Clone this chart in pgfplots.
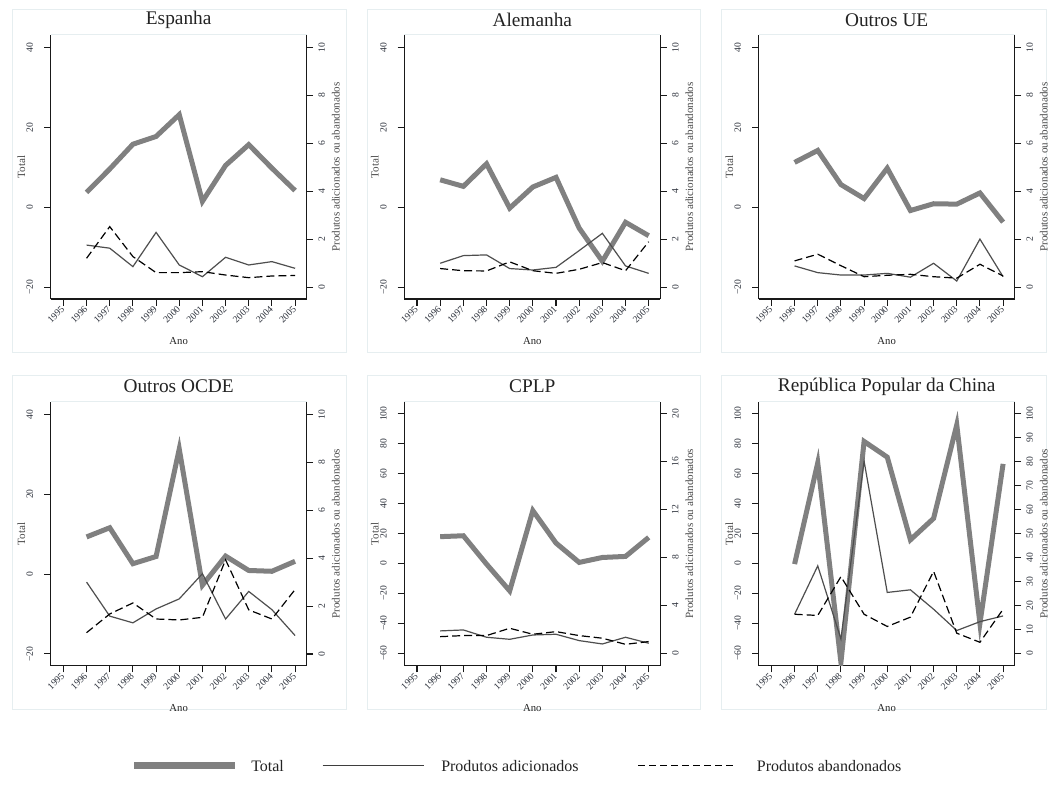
\documentclass[border=0pt]{standalone}
\usepackage{fontspec}
\setmainfont{Liberation Serif}
\usepackage{pgfplots}
\pgfplotsset{compat=1.18}

\definecolor{totgray}{RGB}{128,128,128}
\definecolor{addgray}{RGB}{78,78,78}
\definecolor{boxcol}{RGB}{230,238,240}
\definecolor{txt}{RGB}{35,35,35}
\definecolor{ticktxt}{RGB}{45,50,60}

\pgfplotsset{
  base/.style={
    scale only axis, width=192pt, height=198pt,
    xmin=1994.45, xmax=2005.5,
    clip mode=individual,
    axis line style={-, line width=0.8pt, black!90},
    tick style={line width=0.8pt, black!90},
    tick align=outside, major tick length=4.9pt,
    tick label style={font=\fontsize{7.2}{8}\selectfont, text=ticktxt, inner sep=0.5pt},
  },
  leftax/.style={base,
    axis x line*=bottom, axis y line*=left,
    xtick={1995,1996,1997,1998,1999,2000,2001,2002,2003,2004,2005},
    xticklabels={1995,1996,1997,1998,1999,2000,2001,2002,2003,2004,2005},
    xticklabel style={rotate=45, anchor=east},
    yticklabel style={rotate=90, anchor=south},
    yticklabel shift=7.6pt,
    xticklabel shift=1.2pt,
  },
  rightax/.style={base,
    axis x line=none, axis y line*=right,
    yticklabel style={rotate=90, anchor=north},
    yticklabel shift=3.3pt,
  },
  smallL/.style={ymin=-22.95, ymax=43.15, ytick={-20,0,20,40}, yticklabels={−20,0,20,40}},
  smallR/.style={ymin=-0.49, ymax=10.525, ytick={0,2,4,6,8,10}, yticklabels={0,2,4,6,8,10}},
  bigL/.style={ymin=-68.3, ymax=108, ytick={-60,-40,-20,0,20,40,60,80,100}, yticklabels={−60,−40,−20,0,20,40,60,80,100}},
  cplpR/.style={ymin=-1.0375, ymax=21, ytick={0,4,8,12,16,20}, yticklabels={0,4,8,12,16,20}},
  chinaR/.style={ymin=-5.19, ymax=105, ytick={0,10,...,100}, yticklabels={0,10,20,30,40,50,60,70,80,90,100}},
  tot/.style={color=totgray, line width=3.75pt, no markers},
  add/.style={color=addgray, line width=0.9pt, no markers},
  aban/.style={color=black, line width=0.9pt, dash pattern=on 6pt off 3pt, no markers},
}

\newcommand\decor[1]{%
  \node[font=\fontsize{14.5}{16}\selectfont, text=txt] at (rel axis cs:0.5,1.057) {#1};
  \node[font=\fontsize{8}{9}\selectfont, text=txt] at (rel axis cs:0.5,-0.160) {Ano};
  \node[rotate=90, inner sep=0pt, font=\fontsize{8.3}{9}\selectfont, text=black!70] at (rel axis cs:-0.115,0.5) {Total};
  \node[rotate=90, inner sep=0pt, font=\fontsize{8.3}{9}\selectfont, text=black!70] at (rel axis cs:1.114,0.5) {Produtos adicionados ou abandonados};
  \draw[boxcol, line width=0.75pt] (rel axis cs:0,1) -- (rel axis cs:1,1);
}

\begin{document}
\begin{tikzpicture}
\useasboundingbox (0,0) rectangle (786.75pt,595.5pt);
\fill[white] (0,0) rectangle (786.75pt,595.5pt);
% panel boxes
\foreach \xa/\xb in {9pt/259.5pt, 275.25pt/525pt, 540.75pt/784.5pt}{
  \draw[boxcol, line width=0.75pt] (\xa,331.5pt) rectangle (\xb,588pt);
  \draw[boxcol, line width=0.75pt] (\xa,63.75pt) rectangle (\xb,314.25pt);
}

% ---------- Espanha ----------
\begin{axis}[leftax, smallL, at={(38pt,371.25pt)}, anchor=south west]
\addplot[tot] coordinates {(1996,3.75)(1997,9.6)(1998,15.8)(1999,17.75)(2000,23.2)(2001,1.5)(2002,10.5)(2003,15.7)(2004,9.8)(2005,4.2)};
\decor{Espanha}
\end{axis}
\begin{axis}[rightax, smallR, at={(38pt,371.25pt)}, anchor=south west]
\addplot[add] coordinates {(1996,1.76)(1997,1.63)(1998,0.86)(1999,2.29)(2000,0.93)(2001,0.44)(2002,1.25)(2003,0.93)(2004,1.07)(2005,0.79)};
\addplot[aban] coordinates {(1996,1.21)(1997,2.53)(1998,1.28)(1999,0.61)(2000,0.61)(2001,0.65)(2002,0.51)(2003,0.40)(2004,0.47)(2005,0.49)};
\end{axis}

% ---------- Alemanha ----------
\begin{axis}[leftax, smallL, at={(303.2pt,371.25pt)}, anchor=south west]
\addplot[tot] coordinates {(1996,6.9)(1997,5.25)(1998,10.9)(1999,-0.2)(2000,5.1)(2001,7.5)(2002,-5.2)(2003,-13.5)(2004,-3.75)(2005,-7.1)};
\decor{Alemanha}
\end{axis}
\begin{axis}[rightax, smallR, at={(303.2pt,371.25pt)}, anchor=south west]
\addplot[add] coordinates {(1996,1.0)(1997,1.32)(1998,1.35)(1999,0.78)(2000,0.72)(2001,0.83)(2002,1.53)(2003,2.25)(2004,0.89)(2005,0.58)};
\addplot[aban] coordinates {(1996,0.78)(1997,0.69)(1998,0.68)(1999,1.06)(2000,0.69)(2001,0.58)(2002,0.75)(2003,1.03)(2004,0.69)(2005,1.9)};
\end{axis}

% ---------- Outros UE ----------
\begin{axis}[leftax, smallL, at={(569pt,371.25pt)}, anchor=south west]
\addplot[tot] coordinates {(1996,11.25)(1997,14.25)(1998,5.7)(1999,2.2)(2000,9.8)(2001,-0.8)(2002,0.9)(2003,0.8)(2004,3.6)(2005,-3.7)};
\decor{Outros UE}
\end{axis}
\begin{axis}[rightax, smallR, at={(569pt,371.25pt)}, anchor=south west]
\addplot[add] coordinates {(1996,0.89)(1997,0.61)(1998,0.51)(1999,0.51)(2000,0.58)(2001,0.42)(2002,1.0)(2003,0.26)(2004,2.01)(2005,0.44)};
\addplot[aban] coordinates {(1996,1.10)(1997,1.38)(1998,0.90)(1999,0.44)(2000,0.50)(2001,0.54)(2002,0.44)(2003,0.38)(2004,0.96)(2005,0.47)};
\end{axis}

% ---------- Outros OCDE ----------
\begin{axis}[leftax, smallL, at={(38pt,96.2pt)}, anchor=south west]
\addplot[tot] coordinates {(1996,9.3)(1997,11.6)(1998,2.6)(1999,4.4)(2000,31.3)(2001,-2.8)(2002,4.5)(2003,0.9)(2004,0.7)(2005,3.2)};
\decor{Outros OCDE}
\end{axis}
\begin{axis}[rightax, smallR, at={(38pt,96.2pt)}, anchor=south west]
\addplot[add] coordinates {(1996,3.0)(1997,1.58)(1998,1.30)(1999,1.88)(2000,2.30)(2001,3.35)(2002,1.46)(2003,2.61)(2004,1.85)(2005,0.77)};
\addplot[aban] coordinates {(1996,0.89)(1997,1.67)(1998,2.13)(1999,1.46)(2000,1.42)(2001,1.53)(2002,3.93)(2003,1.84)(2004,1.46)(2005,2.69)};
\end{axis}

% ---------- CPLP ----------
\begin{axis}[leftax, bigL, at={(303.2pt,96.2pt)}, anchor=south west]
\addplot[tot] coordinates {(1996,17.9)(1997,18.5)(1998,-0.4)(1999,-18.3)(2000,35.3)(2001,13.6)(2002,0.7)(2003,4.0)(2004,4.7)(2005,17.4)};
\decor{CPLP}
\end{axis}
\begin{axis}[rightax, cplpR, at={(303.2pt,96.2pt)}, anchor=south west]
\addplot[add] coordinates {(1996,1.87)(1997,1.95)(1998,1.34)(1999,1.17)(2000,1.53)(2001,1.59)(2002,1.06)(2003,0.78)(2004,1.34)(2005,0.84)};
\addplot[aban] coordinates {(1996,1.39)(1997,1.48)(1998,1.48)(1999,2.09)(2000,1.59)(2001,1.81)(2002,1.48)(2003,1.26)(2004,0.75)(2005,0.98)};
\end{axis}

% ---------- China ----------
\begin{axis}[leftax, bigL, at={(569pt,96.2pt)}, anchor=south west]
\addplot[tot] coordinates {(1996,-0.4)(1997,67.2)(1998,-66)(1999,81.5)(2000,71.0)(2001,15.8)(2002,30.1)(2003,92.6)(2004,-40)(2005,66.5)};
\decor{República Popular da China}
\end{axis}
\begin{axis}[rightax, chinaR, at={(569pt,96.2pt)}, anchor=south west]
\addplot[add] coordinates {(1996,16.3)(1997,36.5)(1998,6)(1999,80.2)(2000,25.4)(2001,26.5)(2002,18.4)(2003,9.5)(2004,13.2)(2005,15.6)};
\addplot[aban] coordinates {(1996,16.3)(1997,15.8)(1998,32)(1999,16.3)(2000,11.2)(2001,15.1)(2002,34.2)(2003,8.4)(2004,4.6)(2005,18.4)};
\end{axis}

% ---------- legend ----------
\draw[totgray, line width=5.25pt] (100.5pt,21.4pt) -- (176.25pt,21.4pt);
\node[anchor=base west, inner sep=0pt, font=\fontsize{12}{13}\selectfont, text=txt] at (188.25pt,16.7pt) {Total};
\draw[addgray!80!black, line width=0.9pt] (242pt,21.4pt) -- (318pt,21.4pt);
\node[anchor=base west, inner sep=0pt, font=\fontsize{12}{13}\selectfont, text=txt] at (330.75pt,16.7pt) {Produtos adicionados};
\draw[black, line width=1.1pt, dash pattern=on 5.25pt off 3pt] (478.7pt,21.4pt) -- (552.5pt,21.4pt);
\node[anchor=base west, inner sep=0pt, font=\fontsize{12}{13}\selectfont, text=txt] at (567.5pt,16.7pt) {Produtos abandonados};
\end{tikzpicture}
\end{document}
